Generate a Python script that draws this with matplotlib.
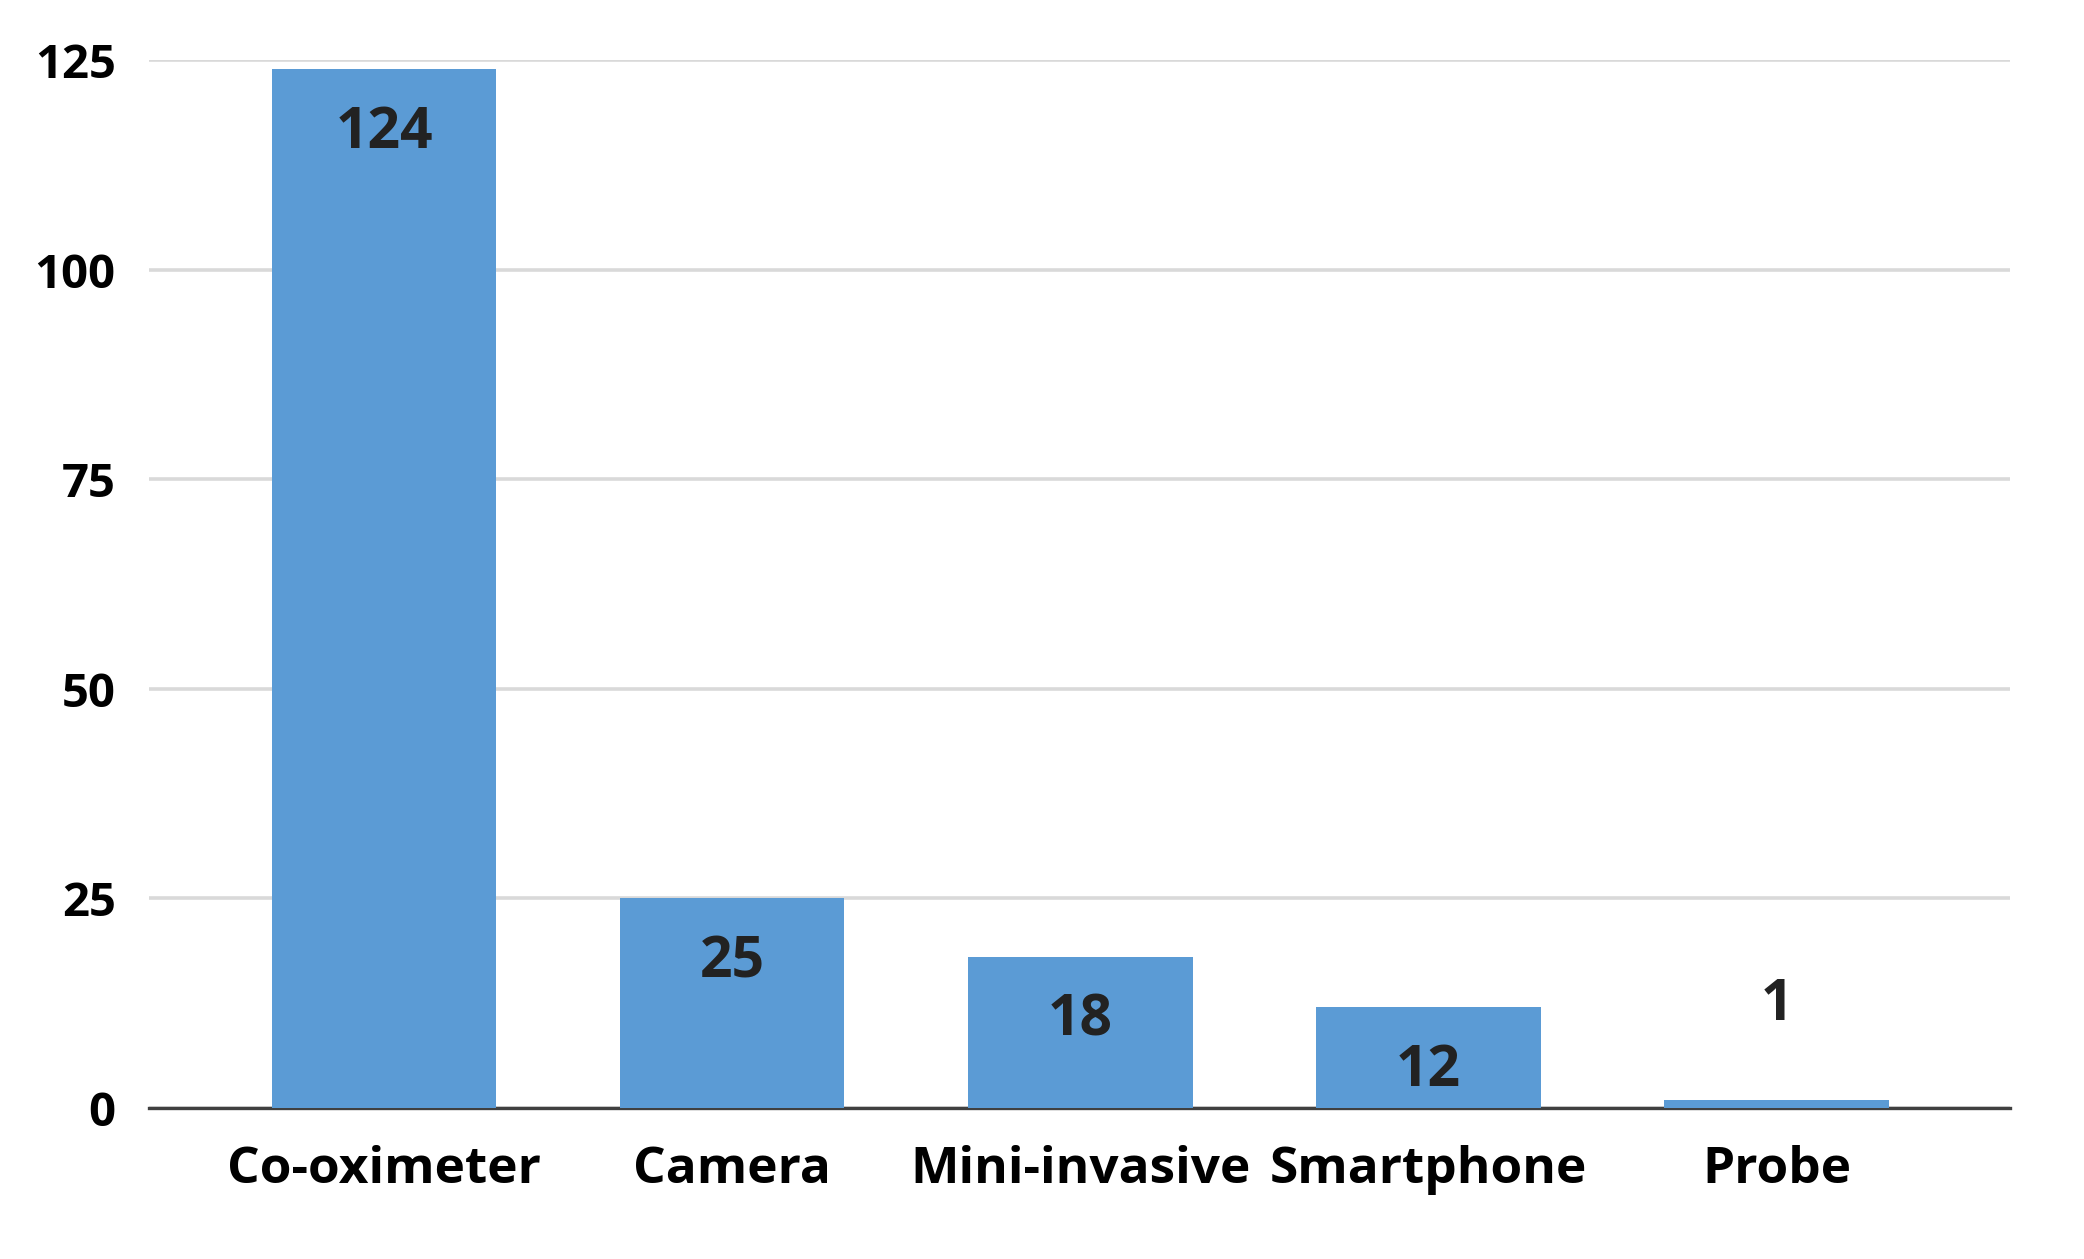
import matplotlib.pyplot as plt

# categories and counts
categories = ['Co-oximeter', 'Camera', 'Mini-invasive', 'Smartphone', 'Probe']
counts = [124, 25, 18, 12, 1]
y_ticks = [0, 25, 50, 75, 100, 125]

bar_color = '#5B9BD5'
font = ['Open Sans', 'DejaVu Sans']
plt.rcParams['font.family'] = font

fig = plt.figure(figsize=(20.84, 12.59), dpi=100)
ax = fig.add_axes([0.0715, 0.12, 0.893, 0.832])

x = range(len(categories))
bars = ax.bar(x, counts, width=0.645, color=bar_color, zorder=3)

# value labels: inside the top of the bar, above it when the bar is too short
for b, v in zip(bars, counts):
    cx = b.get_x() + b.get_width() / 2
    if v >= 5:
        off = -46
    else:
        off = 68
    ax.annotate(str(v), (cx, v), xytext=(0, off), textcoords='offset points',
                ha='center', va='center', fontsize=41, fontweight='bold',
                color='#222222', zorder=4)

ax.set_xlim(-0.675, 4.67)
ax.set_ylim(0, 125)
ax.set_yticks(y_ticks)
ax.set_xticks(list(x))
ax.set_xticklabels(categories, fontsize=37, fontweight='bold')
ax.tick_params(axis='y', labelsize=34, length=0, pad=24)
ax.tick_params(axis='x', length=0, pad=27)
for lab in ax.get_yticklabels():
    lab.set_fontweight('bold')

ax.grid(axis='y', color='#D9D9D9', linewidth=2.6, zorder=0)
for s in ['top', 'right', 'left']:
    ax.spines[s].set_visible(False)
ax.spines['bottom'].set_color('#404040')
ax.spines['bottom'].set_linewidth(2.4)
ax.spines['bottom'].set_zorder(2)

plt.savefig('out.png', dpi=100)
